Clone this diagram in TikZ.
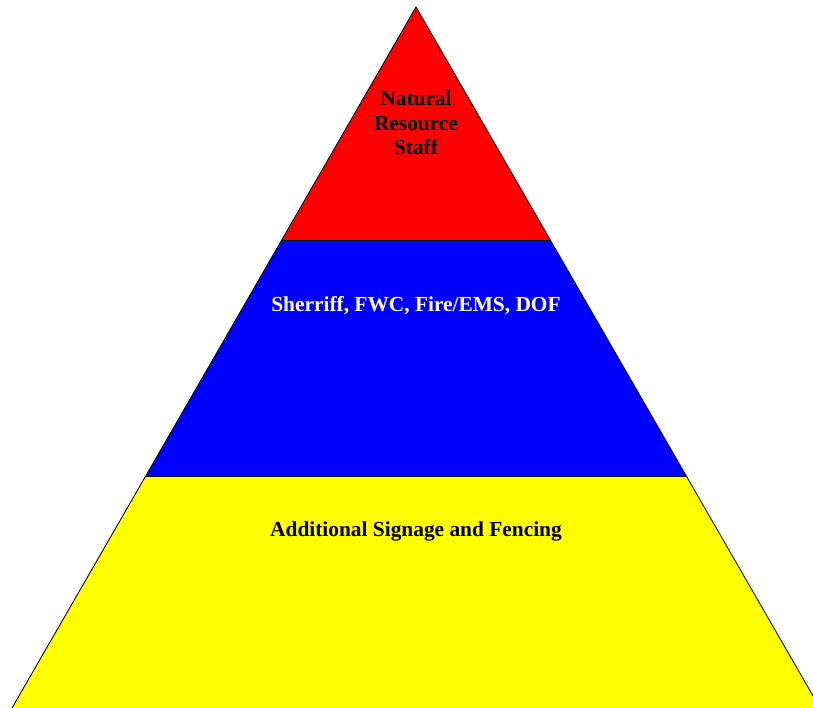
\documentclass[tikz,border=0pt]{standalone}
\usepackage{fontspec}
\setmainfont{Liberation Serif}
\definecolor{tiertop}{RGB}{255,0,0}
\definecolor{tiermid}{RGB}{0,0,255}
\definecolor{tierbase}{RGB}{255,255,0}

\begin{document}
\begin{tikzpicture}[
  x=0.025cm, y=-0.025cm,
  band/.style={draw=black, line width=0.6pt, line join=miter},
  label/.style={align=center, font=\bfseries\fontsize{15.2}{17.4}\selectfont}
]
\useasboundingbox (0,0) rectangle (813,708);
\clip (0,0) rectangle (813,708);
% pyramid corners
\coordinate (apex) at (416,7);
\coordinate (tl) at (281.7,240);
\coordinate (tr) at (550.3,240);
\coordinate (ml) at (145.7,476);
\coordinate (mr) at (686.3,476);
\coordinate (bl) at (12,708);
\coordinate (br) at (820,708);
% tiers
\fill[tierbase] (ml) -- (mr) -- (br) -- (bl) -- cycle;
\fill[tiermid] (tl) -- (tr) -- (mr) -- (ml) -- cycle;
\fill[tiertop] (apex) -- (tr) -- (tl) -- cycle;
\draw[band] (bl) -- (apex) -- (br);
\draw[band] (tl) -- (tr);
\draw[band] (ml) -- (mr);
% labels
\node[label, text=black] (staff) at (416,123) {Natural\\Resource\\Staff};
\node[label, text=white] (agencies) at (416,306) {Sherriff, FWC, Fire/EMS, DOF};
\node[label, text=black] (signage) at (416,531) {Additional Signage and Fencing};
\end{tikzpicture}
\end{document}
